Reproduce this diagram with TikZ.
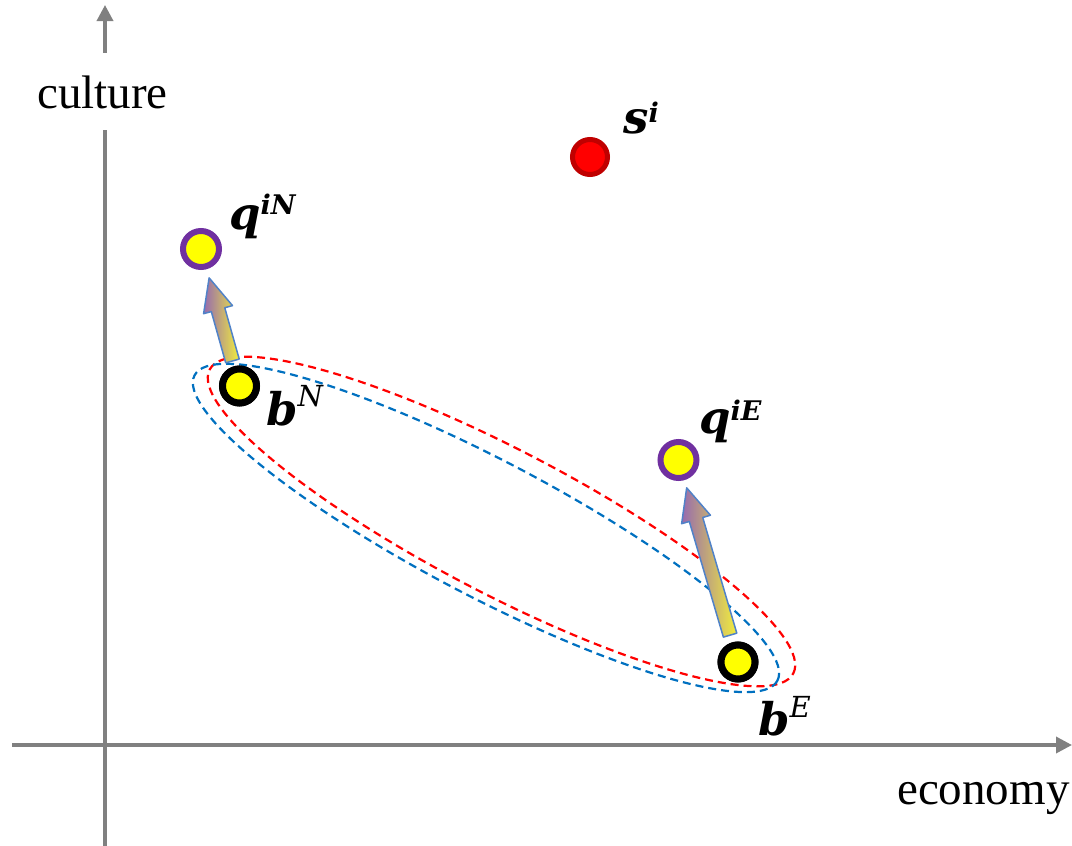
\documentclass[tikz,border=0pt]{standalone}
\usepackage{fontspec}
\setmainfont{Liberation Serif}
\newfontfamily\lblfont{DejaVu Serif}
\usetikzlibrary{arrows.meta,calc}
\definecolor{axisgray}{RGB}{128,128,128}
\definecolor{ringpurple}{RGB}{112,48,160}
\definecolor{dotyellow}{RGB}{255,255,0}
\definecolor{darkred}{RGB}{192,0,0}
\definecolor{ellblue}{RGB}{0,112,192}
\definecolor{arrblue}{RGB}{80,130,200}
\definecolor{shadepurple}{RGB}{150,105,175}
\definecolor{shadeyellow}{RGB}{242,238,60}
\newcommand{\mainletter}[1]{{\lblfont\fontsize{45}{45}\selectfont\bfseries\itshape #1}}
\newcommand{\supbold}[2]{\raisebox{#1}{\lblfont\fontsize{27}{27}\selectfont\bfseries\itshape #2}}
\newcommand{\supit}[2]{\raisebox{#1}{\lblfont\fontsize{29}{29}\selectfont\itshape #2}}
\newcommand{\blockarrow}[2]{%
  \coordinate (#2h) at ($(#2)!33pt!(#1)$);
  \draw[blockarr] ($(#1)!7pt!90:(#2)$) -- ($(#2h)!7pt!90:(#2)$) -- ($(#2h)!15pt!90:(#2)$)
    -- (#2) -- ($(#2h)!15pt!-90:(#2)$) -- ($(#2h)!7pt!-90:(#2)$) -- ($(#1)!7pt!-90:(#2)$) -- cycle;}
\tikzset{
  axis/.style={draw=axisgray, line width=3.5pt, -{Triangle[length=16pt,width=16pt]}},
  axislabel/.style={font=\fontsize{47}{47}\selectfont, inner sep=0pt, anchor=base west},
  ell/.style={line width=2.2pt, dash pattern=on 8pt off 5pt},
  blockarr/.style={draw=arrblue, line width=1.5pt, line join=round, left color=shadepurple, right color=shadeyellow},
  ringq/.style={circle, draw=ringpurple, line width=6pt, fill=dotyellow, minimum size=36pt, inner sep=0pt},
  ringb/.style={circle, draw=black, line width=7pt, fill=dotyellow, minimum size=34pt, inner sep=0pt},
  reddot/.style={circle, draw=darkred, line width=5pt, fill=red, minimum size=35pt, inner sep=0pt},
  lbl/.style={inner sep=0pt, anchor=base west}
}
\begin{document}
\begin{tikzpicture}[x=1pt, y=-1pt]
\useasboundingbox (0,0) rectangle (1072,846);
% axes
\coordinate (xs) at (12,745);
\coordinate (xe) at (1072,745);
\coordinate (ys) at (105,846);
\coordinate (ye) at (105,5);
\draw[axis] (xs) -- (xe);
\draw[axis] (ys) -- (ye);
\node[axislabel, fill=white, inner xsep=2pt, text height=55pt, text depth=22pt] (culture) at (35,108) {culture};
\node[axislabel] (economy) at (897,804) {economy};
% ellipses
\coordinate (ecr) at (501.5,521.5);
\coordinate (ecb) at (486,528);
\draw[ell, draw=red, rotate around={-27.5:(ecr)}] (ecr) ellipse [x radius=329pt, y radius=72pt];
\draw[ell, draw=ellblue, rotate around={-27.65:(ecb)}] (ecb) ellipse [x radius=329pt, y radius=68pt];
% points
\node[reddot] (s) at (590,157) {};
\node[ringq] (qN) at (201,249) {};
\node[ringb] (bN) at (239.5,386) {};
\node[ringq] (qE) at (678.5,460) {};
\node[ringb] (bE) at (738,662) {};
% block arrows
\coordinate (aNs) at ($(bN)!26pt!(qN)$);
\coordinate (aNe) at ($(qN)!30pt!(bN)$);
\coordinate (aEs) at ($(bE)!28pt!(qE)$);
\coordinate (aEe) at ($(qE)!29pt!(bE)$);
\blockarrow{aNs}{aNe}
\blockarrow{aEs}{aEe}
% points drawn again above the arrows
\node[ringb] at (bN) {};
\node[ringb] at (bE) {};
% labels
\node[lbl] (ls) at (623,133) {\mainletter{s}\supbold{11pt}{i}};
\node[lbl] (lqN) at (229,229) {\mainletter{q}\supbold{15pt}{iN}};
\node[lbl] (lbN) at (266,425) {\mainletter{b}\supit{19pt}{N}};
\node[lbl] (lqE) at (699,433) {\mainletter{q}\supbold{13pt}{iE}};
\node[lbl] (lbE) at (758,735) {\mainletter{b}\supit{18pt}{E}};
\end{tikzpicture}
\end{document}
